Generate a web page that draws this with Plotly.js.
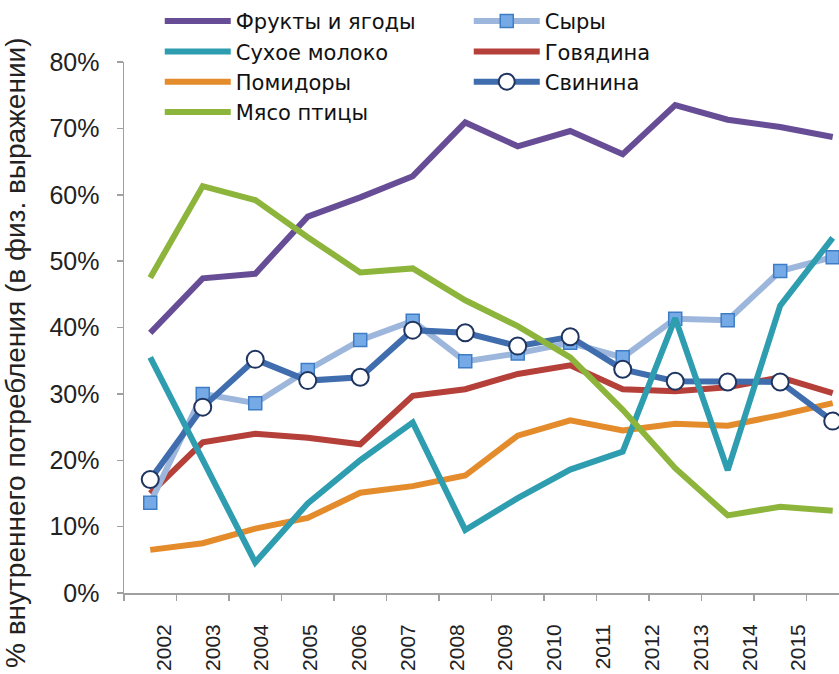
<!DOCTYPE html>
<html>
<head>
<meta charset="utf-8">
<script src="https://cdn.plot.ly/plotly-3.0.1.min.js"></script>
<style>html,body{margin:0;padding:0;background:#fff;}#chart{width:839px;height:674px;}</style>
</head>
<body>
<div id="chart"></div>
<script>
var years = ['2002','2003','2004','2005','2006','2007','2008','2009','2010','2011','2012','2013','2014','2015'];
var yTickVals = [0, 10, 20, 30, 40, 50, 60, 70, 80];
var yTickText = ['0%', '10%', '20%', '30%', '40%', '50%', '60%', '70%', '80%'];
var yTitle = '% внутреннего потребления (в физ. выражении)';

var fruits   = [39.2, 47.4, 48.1, 56.7, 59.6, 62.8, 70.9, 67.3, 69.6, 66.1, 73.5, 71.3, 70.2, 68.7];
var milk     = [35.5, 20.0, 4.6, 13.5, 20.0, 25.7, 9.5, 14.3, 18.6, 21.3, 41.4, 18.5, 43.3, 53.5];
var tomatoes = [6.5, 7.5, 9.7, 11.3, 15.1, 16.1, 17.7, 23.7, 26.0, 24.5, 25.5, 25.2, 26.8, 28.6];
var poultry  = [47.5, 61.3, 59.2, 53.6, 48.3, 48.9, 44.1, 40.2, 35.5, 27.6, 18.8, 11.7, 13.0, 12.4];
var cheese   = [13.6, 30.0, 28.6, 33.6, 38.1, 41.0, 34.9, 36.1, 37.7, 35.5, 41.3, 41.1, 48.5, 50.6];
var beef     = [15.0, 22.7, 24.0, 23.4, 22.4, 29.7, 30.7, 33.0, 34.3, 30.7, 30.4, 31.0, 32.5, 30.1];
var pork     = [17.1, 28.0, 35.2, 32.0, 32.5, 39.6, 39.2, 37.2, 38.6, 33.7, 31.9, 31.8, 31.8, 25.9];

var names = {
  fruits: 'Фрукты и ягоды', milk: 'Сухое молоко', tomatoes: 'Помидоры', poultry: 'Мясо птицы',
  cheese: 'Сыры', beef: 'Говядина', pork: 'Свинина'
};

function lineTrace(name, vals, color, rank, extra) {
  var t = {
    type: 'scatter', mode: 'lines', name: name, x: years, y: vals,
    line: {color: color, width: 6}, legendrank: rank, hoverinfo: 'skip'
  };
  if (extra) for (var k in extra) t[k] = extra[k];
  return t;
}

var data = [
  lineTrace(names.tomatoes, tomatoes, '#E48B2B', 5),
  lineTrace(names.beef, beef, '#B5403A', 4),
  lineTrace(names.fruits, fruits, '#674D96', 1),
  lineTrace(names.cheese, cheese, '#9DB7DC', 2, {
    mode: 'lines+markers',
    marker: {symbol: 'square', size: 13, color: '#76AAE6', line: {color: '#3E7DC6', width: 1.5}}
  }),
  lineTrace(names.pork, pork, '#3F6DAE', 6, {
    mode: 'lines+markers',
    marker: {symbol: 'circle', size: 17, color: '#FFFFFF', line: {color: '#1F3560', width: 2}}
  }),
  lineTrace(names.milk, milk, '#2E9DB0', 3),
  lineTrace(names.poultry, poultry, '#8DB43B', 7),
  {type: 'scatter', x: [], y: [], xaxis: 'x2', yaxis: 'y', showlegend: false, hoverinfo: 'skip'}
];

var fam = 'Liberation Sans, Arial, sans-serif';

var layout = {
  width: 839, height: 674,
  margin: {l: 124, r: 0, t: 62, b: 81, pad: 0},
  paper_bgcolor: '#FFFFFF', plot_bgcolor: '#FFFFFF',
  showlegend: true,
  legend: {
    orientation: 'h', x: 0.05, xanchor: 'left', y: 1.115, yanchor: 'top',
    entrywidth: 228, entrywidthmode: 'pixels', itemwidth: 66,
    font: {family: 'DejaVu Sans, sans-serif', size: 21, color: '#111'},
    bgcolor: 'rgba(0,0,0,0)', traceorder: 'normal', tracegroupgap: 0
  },
  xaxis: {
    type: 'category', range: [-0.5, 13.12], showticklabels: false,
    showline: true, linecolor: '#A0A0A0', linewidth: 1.5,
    ticks: 'outside', tickson: 'boundaries', ticklen: 6, tickcolor: '#A0A0A0', tickwidth: 1.5,
    showgrid: false, zeroline: false, fixedrange: true
  },
  xaxis2: {
    overlaying: 'x', anchor: 'y', side: 'bottom', type: 'linear',
    range: [-0.82, 13.83], tickmode: 'array',
    tickvals: years.map(function (_, i) { return i; }), ticktext: years,
    tickangle: -90, ticks: '', showline: false, showgrid: false, zeroline: false,
    ticklabelstandoff: 26,
    tickfont: {family: fam, size: 21, color: '#222'}
  },
  yaxis: {
    range: [0, 80], tickmode: 'array', tickvals: yTickVals, ticktext: yTickText,
    showline: true, linecolor: '#A0A0A0', linewidth: 1.5,
    ticks: 'outside', ticklen: 6, tickcolor: '#A0A0A0', tickwidth: 1.5,
    ticklabelstandoff: 12,
    tickfont: {family: fam, size: 25, color: '#222'},
    showgrid: false, zeroline: false
  },
  annotations: [{
    text: yTitle, textangle: -90, showarrow: false,
    xref: 'paper', yref: 'paper', x: -0.151, y: 0.452, xanchor: 'center', yanchor: 'middle',
    font: {family: fam, size: 28, color: '#222'}
  }]
};

Plotly.newPlot('chart', data, layout, {displayModeBar: false, staticPlot: true});
</script>
</body>
</html>
